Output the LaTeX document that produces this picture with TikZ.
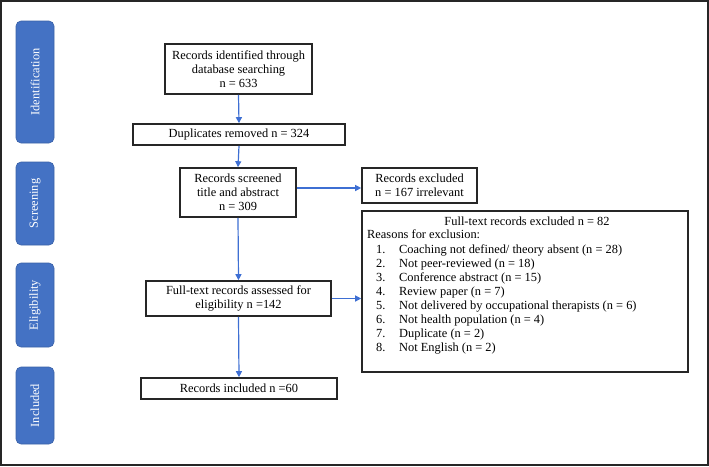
\documentclass[tikz,border=0pt]{standalone}
\usepackage{fontspec}
\setmainfont{Liberation Serif}
\usetikzlibrary{arrows.meta,calc}
\definecolor{sideblue}{HTML}{4472C4}
\definecolor{arrblue}{HTML}{3E6FD3}
\definecolor{boxline}{HTML}{262626}
\tikzset{
  txt/.style={font=\fontsize{12.4}{14}\selectfont, inner sep=0pt, text=black},
  flowbox/.style={draw=boxline, line width=1.6pt, fill=white, txt, align=center},
  side/.style={fill=sideblue, rounded corners=5pt, draw=sideblue!85!black, line width=0.6pt},
  sidetxt/.style={txt, text=white, rotate=90},
  arr/.style={draw=arrblue, line width=1.2pt, -{Triangle[length=6pt,width=6pt]}},
}
\begin{document}
\begin{tikzpicture}[x=1pt,y=-1pt]
\useasboundingbox (0,0) rectangle (709,466);
\draw[line width=2pt, draw=boxline] (1,1) rectangle (708,465);

% side bars
\node[side, minimum width=38pt, minimum height=122pt] (s1) at (35,82) {};
\node[sidetxt] (s1t) at (s1.center) {Identification};
\node[side, minimum width=38pt, minimum height=83pt] (s2) at (35,203.5) {};
\node[sidetxt] (s2t) at (s2.center) {Screening};
\node[side, minimum width=38pt, minimum height=84pt] (s3) at (35,305) {};
\node[sidetxt] (s3t) at (s3.center) {Eligibility};
\node[side, minimum width=38pt, minimum height=77pt] (s4) at (35,405.5) {};
\node[sidetxt] (s4t) at (s4.center) {Included};

% flow boxes
\node[flowbox, minimum width=147pt, minimum height=50pt] (b1) at (238.5,69) {Records identified through\\database searching\\n = 633};
\node[flowbox, minimum width=212pt, minimum height=21pt] (b2) at (239,134.5) {Duplicates removed n = 324};
\node[flowbox, minimum width=116pt, minimum height=49pt] (b3) at (238,192.5) {Records screened\\title and abstract\\n = 309};
\node[flowbox, minimum width=185pt, minimum height=35pt] (b4) at (238.5,298.5) {Full-text records assessed for\\eligibility n =142};
\node[flowbox, minimum width=196pt, minimum height=21pt] (b5) at (239,388.5) {Records included n =60};

\node[flowbox, minimum width=115pt, minimum height=35pt] (ex1) at (419.5,185.5) {Records excluded\\n = 167 irrelevant};
\node[draw=boxline, line width=1.6pt, minimum width=326pt, minimum height=161pt, inner sep=0pt] (ex2) at (525,291.5) {};

\node[txt, anchor=base] (ex2t) at (527,225) {Full-text records excluded n = 82};
\node[txt, anchor=base west] (ex2r) at (367,238) {Reasons for exclusion:};
\foreach \i/\t in {1/{Coaching not defined/ theory absent (n = 28)},2/{Not peer-reviewed (n = 18)},3/{Conference abstract (n = 15)},4/{Review paper (n = 7)},5/{Not delivered by occupational therapists (n = 6)},6/{Not health population (n = 4)},7/{Duplicate (n = 2)},8/{Not English (n = 2)}}{
  \node[txt, anchor=base west] (num\i) at (376,{253+14*(\i-1)}) {\i.};
  \node[txt, anchor=base west] (it\i) at (399,{253+14*(\i-1)}) {\t};
}

% arrows
\draw[arr] (b1.south) -- (b2.north);
\draw[arr] (b2.south) -- (b3.north);
\draw[arr] (b3.south) -- (b4.north);
\draw[arr] (b4.south) -- (b5.north);
\coordinate (a1) at ([yshift=4.5pt]b3.east);
\draw[arr] (a1) -- (a1 -| ex1.west);
\draw[arr] (b4.east) -- (b4.east -| ex2.west);
\end{tikzpicture}
\end{document}
